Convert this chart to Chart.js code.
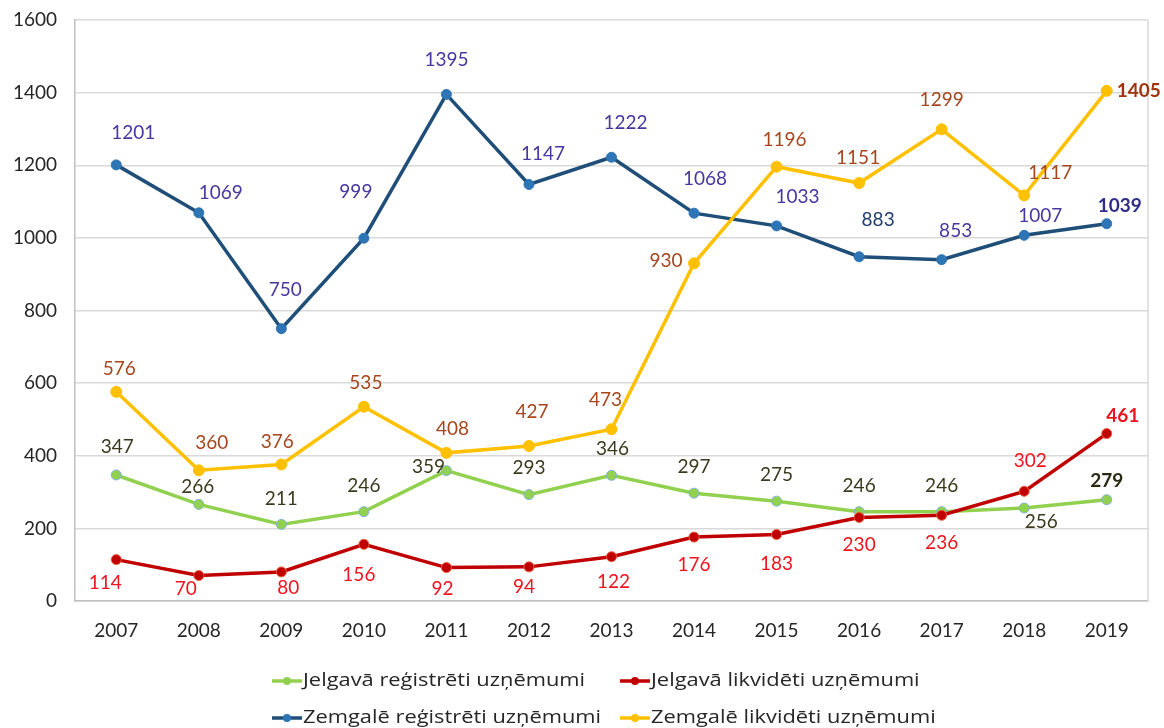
<!DOCTYPE html>
<html>
<head>
<meta charset="utf-8">
<script src="https://cdn.jsdelivr.net/npm/chart.js@4/dist/chart.umd.min.js"></script>
<style>
  html, body { margin: 0; padding: 0; background: #fff; }
  #wrap { width: 1164px; height: 728px; }
</style>
</head>
<body>
<div id="wrap"><canvas id="chart"></canvas></div>
<script>
// ==========================================
// Dati
// ==========================================

const YEARS = ['2007', '2008', '2009', '2010', '2011', '2012', '2013', '2014', '2015', '2016', '2017', '2018', '2019'];

const JELGAVA_REG = [347, 266, 211, 246, 359, 293, 346, 297, 275, 246, 246, 256, 279];
const JELGAVA_LIKV = [114, 70, 80, 156, 92, 94, 122, 176, 183, 230, 236, 302, 461];
// punktu augstums grafikā (2016 un 2017 punkti attēlā stāv augstāk nekā to uzraksti)
const ZEMGALE_REG = [1201, 1069, 750, 999, 1395, 1147, 1222, 1068, 1033, 948, 940, 1007, 1039];
const ZEMGALE_REG_TEXT = ['1201', '1069', '750', '999', '1395', '1147', '1222', '1068', '1033', '883', '853', '1007', '1039'];
const ZEMGALE_LIKV = [576, 360, 376, 535, 408, 427, 473, 930, 1196, 1151, 1299, 1117, 1405];

const Y_TICKS = [0, 200, 400, 600, 800, 1000, 1200, 1400, 1600];

// ==========================================
// Uzrakstu novietojums (px nobīde no punkta)
// ==========================================

const OFFSETS = {
  jelgavaReg: [[1,-28],[-1,-18],[0,-26],[0,-26],[-18,-4],[0,-27],[1,-26],[0,-26],[0,-26],[0,-26],[0,-26],[17,14],[0,-19]],
  jelgavaLikv: [[-11,23],[-13,13],[7,16],[-5,31],[-4,21],[-5,20],[2,25],[0,28],[0,29],[0,27],[0,28],[6,-30],[16,-18]],
  zemgaleReg: [[17,-32],[22,-20],[4,-39],[-8,-46],[0,-35],[14,-31],[14,-34],[11,-34],[21,-29],[19,-37],[14,-29],[16,-19],[13,-18]],
  zemgaleLikv: [[3,-23],[13,-27],[-4,-23],[2,-24],[6,-24],[3,-34],[-6,-29],[-28,-2],[8,-27],[-1,-25],[0,-29],[26,-23],[32,0]]
};

const FONT = 'Lato, "Open Sans", sans-serif';
const LEGEND_FONT = '"Open Sans", Lato, sans-serif';

// ==========================================
// Datu uzraksti
// ==========================================

const valueLabels = {
  id: 'valueLabels',
  afterDatasetsDraw(chart) {
    const ctx = chart.ctx;
    ctx.save();
    ctx.textAlign = 'center';
    ctx.textBaseline = 'middle';
    chart.data.datasets.forEach((ds, di) => {
      const meta = chart.getDatasetMeta(di);
      meta.data.forEach((pt, i) => {
        const last = i === ds.data.length - 1;
        const off = ds.labelOffsets[i];
        ctx.font = (last ? 'bold ' : '') + '19px ' + FONT;
        ctx.fillStyle = (last && ds.lastLabelColor) ? ds.lastLabelColor
          : (ds.labelColors ? ds.labelColors[i] : ds.labelColor);
        const txt = ds.labelText ? ds.labelText[i] : String(ds.data[i]);
        ctx.fillText(txt, pt.x + off[0], pt.y + off[1]);
      });
    });
    ctx.restore();
  }
};

// ==========================================
// Rāmis ap zīmēšanas laukumu
// ==========================================

const plotFrame = {
  id: 'plotFrame',
  beforeDatasetsDraw(chart) {
    const { ctx, chartArea: a } = chart;
    ctx.save();
    ctx.strokeStyle = '#d9d9d9';
    ctx.lineWidth = 1.5;
    ctx.beginPath();
    ctx.moveTo(a.right, a.top);
    ctx.lineTo(a.right, a.bottom);
    ctx.stroke();
    ctx.restore();
  }
};

// ==========================================
// Leģenda 2x2
// ==========================================

const gridLegend = {
  id: 'gridLegend',
  afterDraw(chart) {
    const ctx = chart.ctx;
    const cols = [272, 620];
    const rows = [681, 718];
    ctx.save();
    ctx.font = '19px ' + LEGEND_FONT;
    ctx.textBaseline = 'middle';
    ctx.textAlign = 'left';
    chart.data.datasets.forEach((ds, i) => {
      const x = cols[i % 2];
      const y = rows[Math.floor(i / 2)];
      ctx.strokeStyle = ds.borderColor;
      ctx.lineWidth = 3.5;
      ctx.beginPath();
      ctx.moveTo(x, y);
      ctx.lineTo(x + 30, y);
      ctx.stroke();
      ctx.fillStyle = ds.pointBackgroundColor;
      ctx.beginPath();
      ctx.arc(x + 15, y, 4, 0, Math.PI * 2);
      ctx.fill();
      ctx.fillStyle = '#262626';
      // teksts attēlā ir nedaudz izstiepts platumā
      ctx.save();
      ctx.translate(x + 31, y);
      ctx.scale(1.15, 1);
      ctx.fillText(ds.label, 0, 0);
      ctx.restore();
    });
    ctx.restore();
  }
};

// ==========================================
// Grafiks
// ==========================================

new Chart(document.getElementById('chart'), {
  type: 'line',
  data: {
    labels: YEARS,
    datasets: [
      {
        label: 'Jelgavā reģistrēti uzņēmumi',
        data: JELGAVA_REG,
        borderColor: '#92d050',
        backgroundColor: '#92d050',
        pointBackgroundColor: '#92d050',
        pointBorderColor: '#7fb3d5',
        pointBorderWidth: 1,
        pointRadius: 5,
        borderWidth: 3.5,
        order: 4,
        labelColor: '#3a3a1e',
        lastLabelColor: '#2b2b14',
        labelOffsets: OFFSETS.jelgavaReg
      },
      {
        label: 'Jelgavā likvidēti uzņēmumi',
        data: JELGAVA_LIKV,
        borderColor: '#c00000',
        backgroundColor: '#c00000',
        pointBackgroundColor: '#c00000',
        pointBorderColor: '#e8603c',
        pointBorderWidth: 1,
        pointRadius: 5,
        borderWidth: 3.5,
        order: 3,
        labelColor: '#f0141e',
        lastLabelColor: '#e8141e',
        labelOffsets: OFFSETS.jelgavaLikv
      },
      {
        label: 'Zemgalē reģistrēti uzņēmumi',
        data: ZEMGALE_REG,
        borderColor: '#1f4e79',
        backgroundColor: '#1f4e79',
        pointBackgroundColor: '#2e75b6',
        pointBorderColor: '#2e75b6',
        pointBorderWidth: 1,
        pointRadius: 5,
        borderWidth: 3.5,
        order: 2,
        labelText: ZEMGALE_REG_TEXT,
        labelColors: ['#4638a0', '#4638a0', '#4638a0', '#4638a0', '#4638a0', '#4638a0', '#4638a0',
          '#4638a0', '#4638a0', '#1f3c6e', '#4638a0', '#4638a0', '#2e2e8a'],
        labelOffsets: OFFSETS.zemgaleReg
      },
      {
        label: 'Zemgalē likvidēti uzņēmumi',
        data: ZEMGALE_LIKV,
        borderColor: '#ffc000',
        backgroundColor: '#ffc000',
        pointBackgroundColor: '#ffc000',
        pointBorderColor: '#ffc000',
        pointBorderWidth: 1,
        pointRadius: 5.5,
        borderWidth: 3.5,
        order: 1,
        labelColor: '#a5461e',
        lastLabelColor: '#a0330f',
        labelOffsets: OFFSETS.zemgaleLikv
      }
    ]
  },
  options: {
    responsive: true,
    maintainAspectRatio: false,
    animation: false,
    layout: { padding: { top: 20, right: 16, bottom: 0, left: 0 } },
    plugins: {
      legend: { display: false },
      tooltip: { enabled: false },
      title: { display: false }
    },
    scales: {
      x: {
        offset: true,
        grid: { display: false, drawTicks: false },
        border: { color: '#bfbfbf', width: 1.5 },
        ticks: {
          color: '#262626',
          font: { family: FONT, size: 19 },
          padding: 18
        },
        afterFit(scale) { scale.height = 127; }
      },
      y: {
        min: 0,
        max: 1600,
        afterBuildTicks(scale) { scale.ticks = Y_TICKS.map(v => ({ value: v })); },
        grid: { color: '#d9d9d9', lineWidth: 1.5, drawTicks: true, tickLength: 18, tickColor: 'rgba(0,0,0,0)' },
        border: { color: '#bfbfbf', width: 1.5 },
        ticks: {
          color: '#262626',
          font: { family: FONT, size: 19 },
          padding: 0,
          callback: v => String(v)
        },
        afterFit(scale) { scale.width = 75; }
      }
    }
  },
  plugins: [plotFrame, valueLabels, gridLegend]
});
</script>
</body>
</html>
